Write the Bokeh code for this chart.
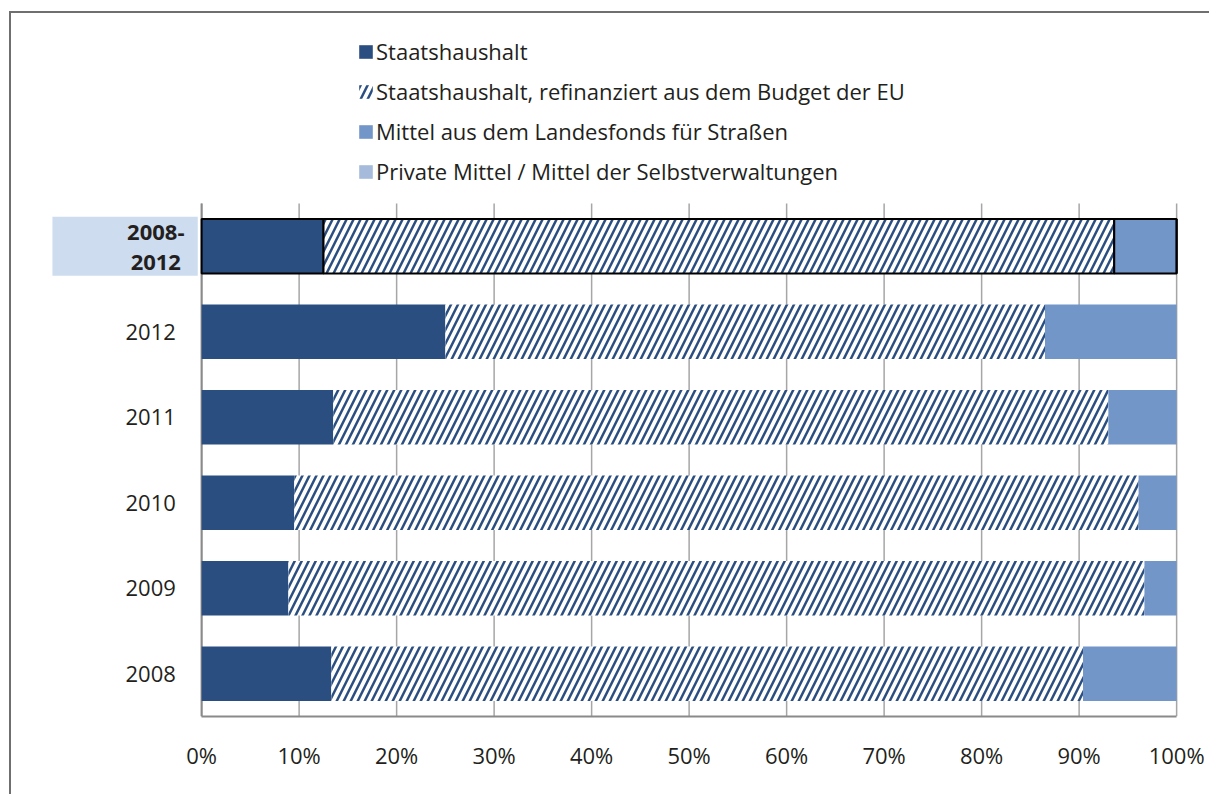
from bokeh.plotting import figure
from bokeh.models import (ColumnDataSource, Range1d, FixedTicker,
                          PrintfTickFormatter, Legend, LegendItem)
from bokeh.core.properties import value
from bokeh.embed import file_html
from bokeh.resources import INLINE

# ---------------- data ----------------
categories = ["2008-2012", "2012", "2011", "2010", "2009", "2008"]
cat_labels = ["2008-\n2012", "2012", "2011", "2010", "2009", "2008"]
highlight = [True, False, False, False, False, False]

staat = [12.5, 25.0, 13.5, 9.5, 8.9, 13.3]
eu = [81.1, 61.5, 79.5, 86.6, 87.8, 77.1]
landes = [6.4, 13.5, 7.0, 3.9, 3.3, 9.6]
privat = [0.0, 0.0, 0.0, 0.0, 0.0, 0.0]

series_names = [
    "Staatshaushalt",
    "Staatshaushalt, refinanziert aus dem Budget der EU",
    "Mittel aus dem Landesfonds für Straßen",
    "Private Mittel / Mittel der Selbstverwaltungen",
]
x_ticks = list(range(0, 101, 10))

# ---------------- styles ----------------
C_STAAT = "#2b4e81"
C_LANDES = "#7396c8"
C_PRIVAT = "#a6bbdc"
C_HL = "#cddcee"
TXT = "#231f20"
FONT = "Open Sans"

n = len(categories)
ypos = [n - 1 - i for i in range(n)]  # first category on top

src = ColumnDataSource(dict(
    y=ypos, staat=staat, eu=eu, landes=landes, privat=privat,
    lalpha=[1.0 if h else 0.0 for h in highlight],
))

p = figure(
    width=1200, height=783,
    x_range=Range1d(-15.5, 100.5), y_range=Range1d(-0.5, 7.722),
    output_backend="svg", toolbar_location=None,
    min_border_left=39, min_border_right=30, min_border_bottom=80, min_border_top=0,
)
p.styles = {"margin-left": "9px", "margin-top": "11px",
            "border-left": "2px solid #6f6f6f", "border-top": "2px solid #6f6f6f"}
p.outline_line_color = None
p.background_fill_color = "white"
p.xgrid.visible = False
p.ygrid.visible = False
p.yaxis.visible = False

# vertical gridlines across the bar area
p.segment(x0=x_ticks, x1=x_ticks, y0=-0.5, y1=n - 0.5,
          line_color="#a6a6a6", line_width=1.5)
p.segment(x0=[x_ticks[0]], x1=[x_ticks[0]], y0=-0.5, y1=n - 0.5,
          line_color="#8a8a8a", line_width=2)

# label background for highlighted row
hl_src = ColumnDataSource(dict(y=[y for y, h in zip(ypos, highlight) if h]))
p.hbar(y="y", left=-15.3, right=-0.4, height=0.69, source=hl_src,
       fill_color=C_HL, line_color=None)

renderers = p.hbar_stack(
    ["staat", "eu", "landes", "privat"], y="y", height=0.64, source=src,
    fill_color=[C_STAAT, "white", C_LANDES, C_PRIVAT],
    line_color="black", line_alpha="lalpha", line_width=2,
    hatch_pattern=[" ", "/", " ", " "], hatch_color=C_STAAT,
    hatch_scale=14, hatch_weight=2.5,
)

# category labels
norm_src = ColumnDataSource(dict(
    y=[y for y, h in zip(ypos, highlight) if not h],
    lab=[l for l, h in zip(cat_labels, highlight) if not h]))
bold_src = ColumnDataSource(dict(
    y=[y for y, h in zip(ypos, highlight) if h],
    lab=[l for l, h in zip(cat_labels, highlight) if h]))
p.text(x=-2.65, y="y", text="lab", source=norm_src, text_align="right",
       text_baseline="middle", text_font=value(FONT), text_font_size="22px",
       text_color=TXT)
p.text(x=-4.7, y="y", text="lab", source=bold_src, text_align="center",
       text_baseline="middle", text_font=value(FONT), text_font_size="22px",
       text_font_style="bold", text_color=TXT, text_line_height=1.0)

# x axis
p.xaxis.ticker = FixedTicker(ticks=x_ticks)
p.xaxis.formatter = PrintfTickFormatter(format="%d%%")
p.xaxis.bounds = (0, 100)
p.xaxis.axis_line_color = "#8a8a8a"
p.xaxis.axis_line_width = 2
p.xaxis.major_tick_line_color = None
p.xaxis.minor_tick_line_color = None
p.xaxis.major_tick_out = 0
p.xaxis.major_tick_in = 0
p.xaxis.major_label_standoff = 23
p.xaxis.major_label_text_font = FONT
p.xaxis.major_label_text_font_size = "22px"
p.xaxis.major_label_text_color = TXT

legend_row = highlight.index(False)  # legend swatches from a row without outline
legend = Legend(
    items=[LegendItem(label=nm, renderers=[r], index=legend_row)
           for nm, r in zip(series_names, renderers)],
    location=(307, 525), orientation="vertical",
    label_text_font=FONT, label_text_font_size="22px", label_text_color=TXT,
    glyph_width=17, glyph_height=17, label_height=40, spacing=0,
    padding=0, margin=0, border_line_color=None, background_fill_alpha=0,
    label_standoff=2,
)
p.add_layout(legend, "center")

open("out.html", "w").write(file_html(p, INLINE))
